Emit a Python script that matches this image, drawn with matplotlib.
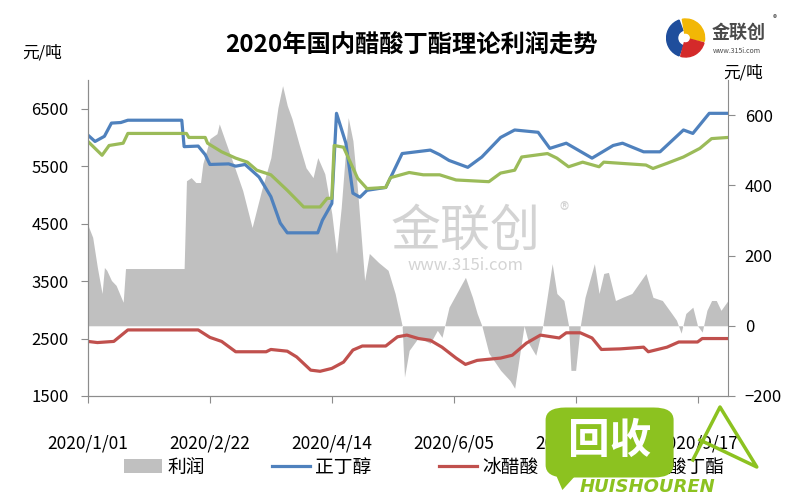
import matplotlib
matplotlib.use("Agg")
import matplotlib.pyplot as plt
from matplotlib.patches import Patch, FancyBboxPatch, Wedge, Polygon
from matplotlib.lines import Line2D
import pandas as pd

plt.rcParams["font.family"] = ["Noto Sans CJK SC", "DejaVu Sans"]

# days since 2020-01-01 and values
blue_days = [0, 3, 7, 10, 14, 17, 40, 41, 47, 50, 52, 60, 63, 67, 70, 73, 78, 82, 85, 98, 100,
             104, 106, 110, 113, 116, 119, 127, 130, 134, 146, 150, 154, 162, 168, 176, 182, 192,
             197, 204, 215, 224, 228, 237, 244, 254, 258, 265, 273]
blue_vals = [6040, 5930, 6020, 6250, 6260, 6300, 6300, 5840, 5850, 5700, 5530, 5540, 5500, 5530,
             5420, 5310, 4970, 4510, 4340, 4340, 4560, 4850, 6420, 5900, 5030, 4960, 5080, 5130,
             5380, 5720, 5780, 5700, 5600, 5480, 5660, 6000, 6130, 6090, 5810, 5900, 5640, 5860,
             5900, 5750, 5750, 6130, 6070, 6420, 6420]

green_days = [0, 6, 9, 15, 17, 42, 43, 50, 51, 57, 63, 68, 72, 78, 85, 92, 99, 102, 104, 105,
              109, 115, 119, 127, 129, 137, 143, 150, 157, 171, 176, 182, 185, 196, 200, 205, 211,
              218, 220, 238, 241, 247, 254, 261, 266, 273]
green_vals = [5930, 5690, 5860, 5900, 6070, 6070, 6000, 6000, 5900, 5750, 5640, 5570, 5430, 5350,
              5080, 4790, 4790, 4940, 4940, 5860, 5830, 5290, 5110, 5130, 5300, 5390, 5350, 5350,
              5260, 5230, 5380, 5430, 5660, 5720, 5640, 5490, 5570, 5490, 5570, 5520, 5460, 5550,
              5660, 5810, 5980, 6000]

red_days = [0, 4, 11, 17, 47, 52, 57, 63, 76, 78, 85, 89, 95, 99, 104, 109, 113, 117, 127, 132,
            136, 141, 146, 151, 157, 161, 166, 176, 181, 187, 193, 201, 204, 210, 215, 219, 227,
            237, 239, 247, 252, 260, 262, 273]
red_vals = [2450, 2430, 2450, 2650, 2650, 2520, 2450, 2270, 2270, 2310, 2280, 2180, 1950, 1930,
            1980, 2090, 2300, 2370, 2370, 2530, 2560, 2500, 2470, 2350, 2160, 2050, 2120, 2160,
            2210, 2420, 2560, 2510, 2600, 2600, 2510, 2310, 2320, 2350, 2270, 2350, 2440, 2440,
            2500, 2500]

profit_days = [0, 2, 4, 6, 7, 8, 10, 12, 15, 16, 41, 42, 44, 46, 48, 49, 52, 55, 56, 59,
               62, 66, 70, 74, 78, 81, 83, 85, 87, 90, 93, 96, 98, 101, 104, 106, 108, 111, 113, 115,
               118, 120, 124, 128, 131, 134, 135, 137, 141, 146, 149, 151, 154, 161, 164, 166, 168,
               171, 176, 180, 182, 184, 186, 188, 191, 194, 198, 200, 203, 205, 206, 208, 210, 212,
               216, 218, 220, 222, 225, 228, 232, 238, 241, 245, 249, 251, 253, 255, 258, 260,
               262, 264, 266, 268, 270, 273]
profit_vals = [286, 252, 166, 92, 166, 158, 129, 115, 67, 163, 163, 413, 422, 408, 408, 462, 533,
               547, 575, 518, 462, 385, 280, 385, 479, 621, 684, 627, 590, 518, 450, 422, 479, 433,
               319, 206, 336, 593, 527, 385, 129, 206, 180, 158, 92, 0, -146, -70, -33, -50, -13,
               -33, 53, 138, 81, 35, 0, -78, -127, -156, -178, -89, 0, -50, -84, 0, 177, 92, 72,
               0, -127, -127, 0, 81, 177, 92, 149, 152, 72, 81, 92, 149, 81, 72, 35, 16, -21, 35,
               53, 0, -18, 44, 72, 72, 44, 72]

tick_labels = ["2020/1/01", "2020/2/22", "2020/4/14", "2020/6/05", "2020/7/27", "2020/9/17"]
names = ["利润", "正丁醇", "冰醋酸", "醋酸丁酯"]

base = pd.Timestamp("2020-01-01")


def to_dates(days):
    return base + pd.to_timedelta(days, unit="D")


c_gray = "#C0C0C0"
c_blue = "#4F81BD"
c_red = "#C0504D"
c_green = "#9BBB59"
c_axis = "#8C8C8C"

fig = plt.figure(figsize=(8, 5), dpi=100)
ax1 = fig.add_axes([0.11, 0.208, 0.80, 0.632])
ax2 = ax1.twinx()
ax1.set_zorder(ax2.get_zorder() + 1)
ax1.patch.set_visible(False)

ax2.fill_between(to_dates(profit_days), 0, profit_vals, color=c_gray, linewidth=0)
ax1.plot(to_dates(blue_days), blue_vals, color=c_blue, lw=2.3, solid_joinstyle="round")
ax1.plot(to_dates(red_days), red_vals, color=c_red, lw=2.3, solid_joinstyle="round")
ax1.plot(to_dates(green_days), green_vals, color=c_green, lw=2.3, solid_joinstyle="round")

ax1.set_xlim(base, to_dates([273])[0])
ax1.set_ylim(1500, 7000)
ax1.set_yticks(range(1500, 6501, 1000))
ax2.set_ylim(-200, 700)
ax2.set_yticks(range(-200, 601, 200))

ax1.set_xticks(pd.to_datetime(tick_labels, format="%Y/%m/%d"))
ax1.set_xticklabels(tick_labels)

for ax in (ax1, ax2):
    for s in ax.spines.values():
        s.set_color(c_axis)
    ax.spines["top"].set_visible(False)
ax1.spines["right"].set_visible(False)

ax1.tick_params(axis="y", direction="out", length=5, color=c_axis, pad=9, labelsize=12)
ax2.tick_params(axis="y", direction="out", length=5, color=c_axis, pad=7, labelsize=12)
ax1.tick_params(axis="x", direction="out", length=5, color=c_axis, pad=23, labelsize=12.5)

fig.text(0.514, 0.91, "2020年国内醋酸丁酯理论利润走势", ha="center", va="center",
         fontsize=17.5, fontweight="bold")
fig.text(0.052, 0.893, "元/吨", ha="center", va="center", fontsize=12)
fig.text(0.929, 0.853, "元/吨", ha="center", va="center", fontsize=12)

handles = [Patch(facecolor=c_gray, edgecolor="none"),
           Line2D([], [], color=c_blue, lw=2.3),
           Line2D([], [], color=c_red, lw=2.3),
           Line2D([], [], color=c_green, lw=2.3)]
fig.legend(handles, names, loc="center", bbox_to_anchor=(0.53, 0.066), ncol=4, frameon=False,
           fontsize=13.5, handlelength=2.0, handletextpad=0.3, columnspacing=3.6)

# central watermark
fig.text(0.582, 0.537, "金联创", ha="center", va="center", fontsize=36, color="#CFCFCF", alpha=0.9)
fig.text(0.705, 0.578, "®", ha="center", va="center", fontsize=14, color="#CFCFCF", alpha=0.9)
fig.text(0.582, 0.47, "www.315i.com", ha="center", va="center", fontsize=12, color="#CFCFCF",
         alpha=0.9)

# top right logo
lax = fig.add_axes([0.832, 0.884, 0.05, 0.08])
lax.set_xlim(-1, 1)
lax.set_ylim(-1, 1)
lax.set_aspect("equal")
lax.axis("off")
lax.add_patch(Wedge((0, 0), 0.95, 110, 250, width=0.55, color="#1F4E9C"))
lax.add_patch(Wedge((0, 0), 0.95, -10, 100, width=0.7, color="#F2B705"))
lax.add_patch(Wedge((0, 0), 0.95, 255, 345, width=0.7, color="#D42A2A"))
fig.text(0.89, 0.935, "金联创", ha="left", va="center", fontsize=13, color="#4A4A4A",
         fontweight="bold")
fig.text(0.891, 0.898, "www.315i.com", ha="left", va="center", fontsize=5, color="#4A4A4A")
fig.text(0.968, 0.962, "®", ha="center", va="center", fontsize=6, color="#4A4A4A")

# green overlay logo in the bottom right
c_lime = "#8CC220"
box = FancyBboxPatch((0.682, 0.045), 0.16, 0.14, boxstyle="round,pad=0,rounding_size=0.025",
                     transform=fig.transFigure, facecolor=c_lime, edgecolor="none", zorder=10)
fig.patches.append(box)
fig.patches.append(Polygon([(0.695, 0.05), (0.72, 0.05), (0.703, 0.02)], closed=True,
                           transform=fig.transFigure, facecolor=c_lime, zorder=10))
fig.text(0.762, 0.118, "回收", ha="center", va="center", fontsize=30, fontweight="bold",
         color="white", zorder=11)
fig.text(0.809, 0.025, "HUISHOUREN", ha="center", va="center", fontsize=13, fontweight="bold",
         fontstyle="italic", color=c_lime, zorder=11, family="DejaVu Sans")
fig.lines.append(Line2D([0.866, 0.9, 0.946, 0.875], [0.08, 0.186, 0.066, 0.12],
                        transform=fig.transFigure, color=c_lime, lw=2.5, zorder=10))

fig.savefig("out.png", dpi=100)
